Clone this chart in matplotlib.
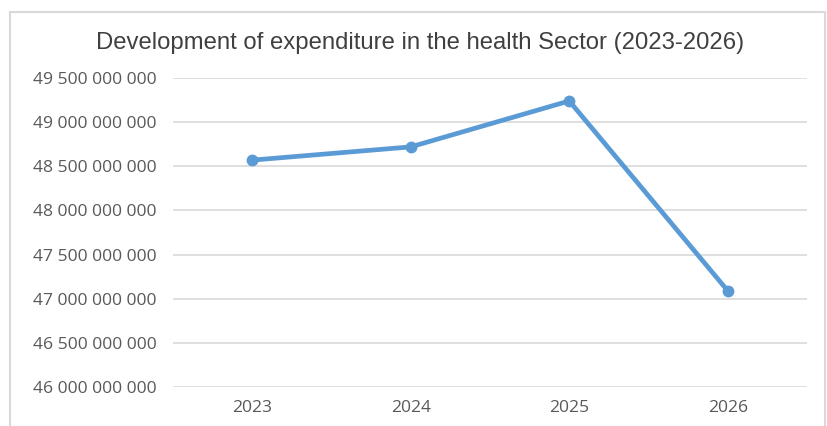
import matplotlib.pyplot as plt
from matplotlib.ticker import FuncFormatter, MultipleLocator
from matplotlib.patches import Rectangle

years = ["2023", "2024", "2025", "2026"]
expenditure = [48_570_000_000, 48_720_000_000, 49_240_000_000, 47_090_000_000]

text_grey = "#595959"
line_blue = "#5B9BD5"

fig = plt.figure(figsize=(8.27, 4.26), dpi=100)
ax = fig.add_axes([0.2092, 0.0915, 0.7666, 0.7254])

ax.plot(range(len(years)), expenditure, color=line_blue, linewidth=3.4,
        marker="o", markersize=7.5, solid_capstyle="round", zorder=3)

ax.set_xlim(-0.5, len(years) - 0.5)
ax.set_ylim(46_000_000_000, 49_500_000_000)
ax.yaxis.set_major_locator(MultipleLocator(500_000_000))
ax.yaxis.set_major_formatter(FuncFormatter(lambda v, p: f"{v:,.0f}".replace(",", " ")))
ax.set_xticks(range(len(years)))
ax.set_xticklabels(years)

ax.grid(axis="y", color="#d9d9d9", linewidth=1.2)
ax.set_axisbelow(True)
for s in ax.spines.values():
    s.set_visible(False)
ax.tick_params(length=0, colors=text_grey, labelsize=12.6)
ax.tick_params(axis="y", pad=12)
ax.tick_params(axis="x", pad=9)
for lbl in ax.get_xticklabels() + ax.get_yticklabels():
    lbl.set_fontfamily("Open Sans")

fig.text(0.508, 0.899, "Development of expenditure in the health Sector (2023-2026)",
         ha="center", va="center", fontsize=17.2, color="#404040",
         fontfamily="Liberation Sans")

# chart frame
fig.patches.append(Rectangle((10 / 827, -0.1), (825 - 10) / 827, 1.1 - 12 / 426,
                             transform=fig.transFigure, fill=False,
                             edgecolor="#d9d9d9", linewidth=1.5))

fig.savefig("out.png", dpi=100)
